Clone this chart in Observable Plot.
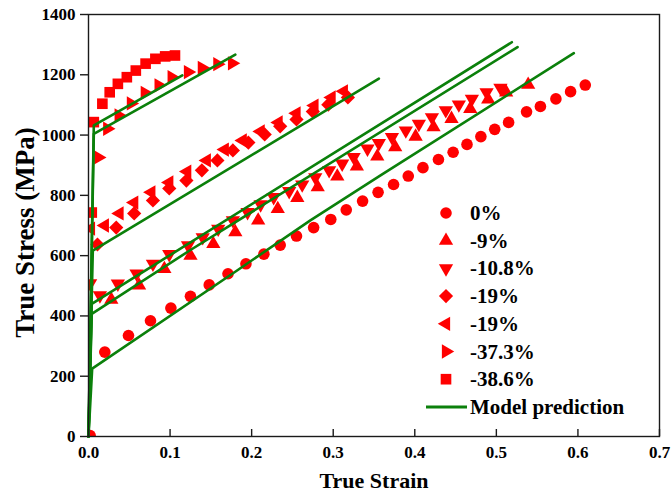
<!DOCTYPE html>
<html><head><meta charset="utf-8">
<script src="https://cdn.jsdelivr.net/npm/d3@7"></script>
<script src="https://cdn.jsdelivr.net/npm/@observablehq/plot@0.6"></script>
<style>
body{margin:0;background:#fff;}
#wrap{position:relative;width:671px;height:492px;font-family:"Liberation Serif","Times New Roman",serif;font-weight:bold;}
#wrap svg.legend{position:absolute;left:0;top:0;pointer-events:none;}
</style></head><body><div id="wrap"></div>
<script>
// ---- data ----
const xTicks = [0, 0.1, 0.2, 0.3, 0.4, 0.5, 0.6, 0.7];
const yTicks = [0, 200, 400, 600, 800, 1000, 1200, 1400];
const xTitle = "True Strain";
const yTitle = "True Stress (MPa)";
const seriesLabels = ["0%", "-9%", "-10.8%", "-19%", "-19%", "-37.3%", "-38.6%"];
const modelLabel = "Model prediction";

const strain0 = [0.002,0.020,0.049,0.076,0.101,0.125,0.148,0.171,0.193,0.215,0.235,0.255,0.276,0.297,0.316,0.336,0.355,0.374,0.392,0.410,0.429,0.447,0.464,0.481,0.498,0.515,0.537,0.554,0.573,0.591,0.609];
const stress0 = [3,280,335,384,426,465,503,540,573,605,635,665,693,720,752,781,810,836,864,892,919,943,969,995,1019,1042,1077,1095,1120,1144,1166];

const strain9 = [0.028,0.062,0.093,0.125,0.153,0.180,0.208,0.232,0.256,0.281,0.305,0.329,0.354,0.376,0.401,0.423,0.445,0.468,0.490,0.512,0.539];
const stress9 = [454,501,556,600,639,678,717,755,792,827,863,896,929,960,995,1026,1054,1087,1118,1142,1167];

const strain108 = [0.002,0.014,0.036,0.059,0.079,0.099,0.122,0.140,0.159,0.177,0.195,0.211,0.227,0.246,0.262,0.278,0.295,0.311,0.325,0.342,0.356,0.372,0.389,0.405,0.421,0.438,0.454,0.470,0.488,0.505];
const stress108 = [508,468,507,540,573,605,634,661,689,717,744,770,794,814,836,860,883,905,927,955,973,993,1015,1037,1059,1082,1101,1120,1142,1157];

const strain19a = [0.011,0.034,0.056,0.079,0.099,0.120,0.139,0.158,0.177,0.196,0.216,0.235,0.255,0.275,0.294,0.318];
const stress19a = [637,693,740,783,823,849,883,916,949,975,1002,1029,1052,1078,1101,1125];

const strain19b = [0.003,0.020,0.038,0.056,0.077,0.099,0.121,0.145,0.167,0.189,0.211,0.233,0.255,0.277,0.298,0.313];
const stress19b = [690,700,740,776,810,843,879,916,952,982,1012,1042,1072,1098,1125,1145];

const strain373 = [0.012,0.023,0.037,0.052,0.069,0.086,0.102,0.122,0.139,0.158,0.176];
const stress373 = [926,1021,1065,1105,1140,1165,1192,1209,1223,1235,1238];

const strain386 = [0.004,0.0065,0.017,0.026,0.036,0.047,0.058,0.070,0.082,0.094,0.106];
const stress386 = [743,1043,1104,1142,1170,1192,1214,1237,1253,1261,1264];

// model predictions
const modelStrainA = [0, 0.0065, 0.115];
const modelStressA = [0, 1032, 1198];
const modelStrainB = [0, 0.0065, 0.180];
const modelStressB = [0, 1004, 1267];
const modelStrainC = [0, 0.0053, 0.356];
const modelStressC = [0, 617, 1187];
const modelStrainD = [0, 0.004, 0.519];
const modelStressD = [0, 440, 1308];
const modelStrainE = [0, 0.004, 0.124, 0.526];
const modelStressE = [0, 407, 617, 1292];
const modelStrainF = [0, 0.0045, 0.179, 0.272, 0.358, 0.595];
const modelStressF = [0, 225, 545, 717, 866, 1272];

// ---- drawing ----
const red = "#ff0000", green = "#0b800b", ink = "#1a1a1a";
const pts = (xs, ys) => xs.map((x, i) => ({x, y: ys[i]}));

function triSym(deg) {
  const a = deg * Math.PI / 180;
  return {draw(ctx, size) {
    const y = -Math.sqrt(size / (Math.sqrt(3) * 3));
    const p = [[0, 2 * y], [-Math.sqrt(3) * y, -y], [Math.sqrt(3) * y, -y]];
    p.forEach(([px, py], i) => {
      const rx = px * Math.cos(a) - py * Math.sin(a);
      const ry = px * Math.sin(a) + py * Math.cos(a);
      i ? ctx.lineTo(rx, ry) : ctx.moveTo(rx, ry);
    });
    ctx.closePath();
  }};
}
const symbols = [d3.symbolCircle, triSym(0), triSym(180), d3.symbolDiamond2, triSym(-90), triSym(90), d3.symbolSquare];
const radii = [5.8, 5.3, 5.3, 6.4, 5.3, 5.3, 6.0];

const series = [
  pts(strain0, stress0), pts(strain9, stress9), pts(strain108, stress108),
  pts(strain19a, stress19a), pts(strain19b, stress19b), pts(strain373, stress373), pts(strain386, stress386)
];
const models = [
  pts(modelStrainA, modelStressA), pts(modelStrainB, modelStressB), pts(modelStrainC, modelStressC),
  pts(modelStrainD, modelStressD), pts(modelStrainE, modelStressE), pts(modelStrainF, modelStressF)
];

const W = 671, H = 492, mL = 88, mR = 12, mT = 14, mB = 56;
const innerH = H - mT - mB;

const chart = Plot.plot({
  width: W, height: H,
  marginLeft: mL, marginRight: mR, marginTop: mT, marginBottom: mB,
  x: {domain: [0, 0.7]},
  y: {domain: [0, 1400]},
  style: {fontFamily: '"Liberation Serif","Times New Roman",serif', fontWeight: "bold", fontSize: "17px", color: "#000", background: "#fff"},
  marks: [
    ...series.map((d, i) => Plot.dot(d, {x: "x", y: "y", symbol: symbols[i], r: radii[i], fill: red, stroke: "none", clip: true})),
    ...models.map(d => Plot.line(d, {x: "x", y: "y", stroke: green, strokeWidth: 2.6})),
    Plot.frame({stroke: ink, strokeWidth: 1.4}),
    Plot.axisY({ticks: yTicks, tickSize: 8, tickPadding: 5, tickFormat: d => String(d), label: null, stroke: ink, strokeWidth: 1.4}),
    Plot.axisX({ticks: xTicks, tickSize: 0, tickPadding: 9, tickFormat: d3.format(".1f"), label: null}),
    Plot.ruleX(xTicks, {insetTop: innerH - 7, stroke: ink, strokeWidth: 1.4}),
    Plot.text([yTitle], {text: d => d, frameAnchor: "left", textAnchor: "middle", lineAnchor: "middle", rotate: -90, dx: -63, dy: 7, fontSize: 27}),
    Plot.text([xTitle], {text: d => d, frameAnchor: "bottom", textAnchor: "middle", lineAnchor: "middle", dy: 44, fontSize: 22})
  ]
});
const wrap = document.getElementById("wrap");
wrap.appendChild(chart);

// legend overlay
const leg = d3.create("svg").attr("class", "legend").attr("width", W).attr("height", H)
  .style("font-family", '"Liberation Serif","Times New Roman",serif').style("font-weight", "bold").style("font-size", "21px");
const rowY0 = 213, rowStep = 27.7, markX = 446, textX = 470;
seriesLabels.forEach((lab, i) => {
  const cy = rowY0 + i * rowStep;
  leg.append("path").attr("transform", `translate(${markX},${cy})`)
    .attr("d", d3.symbol().type(symbols[i]).size(Math.PI * radii[i] * radii[i])()).attr("fill", red);
  leg.append("text").attr("x", textX).attr("y", cy + 7).text(lab);
});
const my = rowY0 + seriesLabels.length * rowStep;
leg.append("line").attr("x1", 426).attr("x2", 467).attr("y1", my).attr("y2", my).attr("stroke", green).attr("stroke-width", 3);
leg.append("text").attr("x", textX).attr("y", my + 7).text(modelLabel);
wrap.appendChild(leg.node());
</script>
</body></html>
